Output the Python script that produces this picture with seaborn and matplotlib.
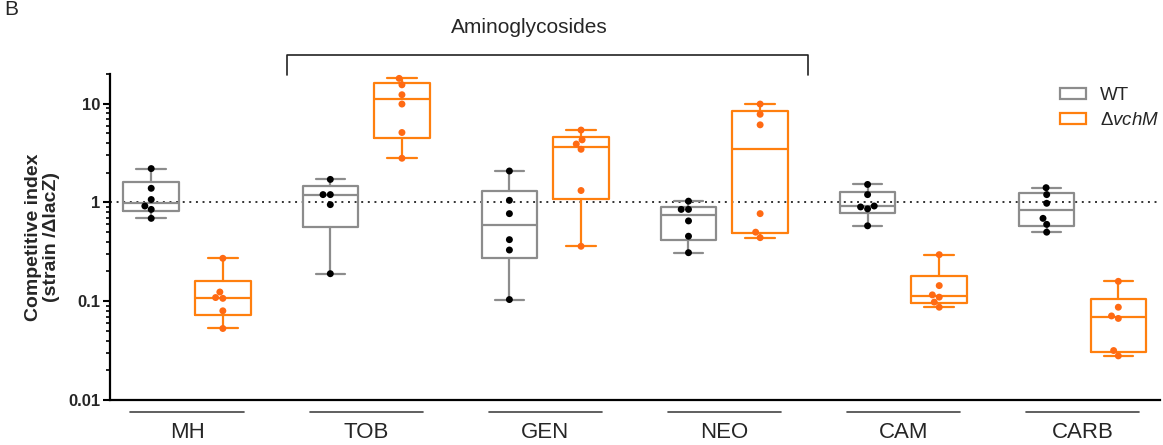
import numpy as np
import pandas as pd
import matplotlib
matplotlib.use('Agg')
import matplotlib.pyplot as plt
import matplotlib.transforms as mtransforms
from matplotlib.patches import Patch
from matplotlib.ticker import FixedLocator, LogLocator, NullFormatter
import seaborn as sns

# DATA (competitive index)
groups = ['MH', 'TOB', 'GEN', 'NEO', 'CAM', 'CARB']
strains = ['WT', 'ΔvchM']

wt_mh = [2.2, 1.39, 1.07, 0.92, 0.85, 0.69]
wt_tob = [1.71, 1.2, 1.2, 0.95, 0.19]
wt_gen = [2.08, 1.05, 0.77, 0.42, 0.33, 0.104]
wt_neo = [1.03, 0.85, 0.85, 0.65, 0.455, 0.31]
wt_cam = [1.52, 1.2, 0.92, 0.9, 0.86, 0.58]
wt_carb = [1.41, 1.2, 0.98, 0.69, 0.6, 0.5]

vchm_mh = [0.272, 0.124, 0.109, 0.107, 0.080, 0.053]
vchm_tob = [18.0, 15.5, 12.3, 9.9, 5.1, 2.8]
vchm_gen = [5.4, 4.3, 3.9, 3.45, 1.32, 0.36]
vchm_neo = [9.9, 7.8, 6.1, 0.77, 0.5, 0.44]
vchm_cam = [0.296, 0.144, 0.116, 0.11, 0.098, 0.087]
vchm_carb = [0.159, 0.087, 0.071, 0.067, 0.0317, 0.028]

y_ticks = [0.01, 0.1, 1, 10]
y_tick_labels = ['0.01', '0.1', '1', '10']

wt_lists = [wt_mh, wt_tob, wt_gen, wt_neo, wt_cam, wt_carb]
vchm_lists = [vchm_mh, vchm_tob, vchm_gen, vchm_neo, vchm_cam, vchm_carb]

rows = []
for g, wt, vm in zip(groups, wt_lists, vchm_lists):
    rows += [(g, 'WT', v) for v in wt]
    rows += [(g, 'ΔvchM', v) for v in vm]
df = pd.DataFrame(rows, columns=['group', 'strain', 'ci'])

# STYLE
sns.set_style('ticks')
plt.rcParams['font.family'] = ['Liberation Sans', 'DejaVu Sans']
plt.rcParams['mathtext.fontset'] = 'custom'
plt.rcParams['mathtext.rm'] = 'Liberation Sans'
plt.rcParams['mathtext.it'] = 'Liberation Sans:italic'

box_colors = {'WT': '#8c8c8c', 'ΔvchM': '#ff7f0e'}
dot_colors = {'WT': 'black', 'ΔvchM': '#ff6a13'}
offsets = {'WT': -0.2, 'ΔvchM': 0.2}

fig = plt.figure(figsize=(11.63, 4.45), dpi=100)
ax = fig.add_axes([0.0946, 0.101, 0.9024, 0.733])
ax.set_yscale('log')

# dots
sns.swarmplot(data=df, x='group', y='ci', hue='strain', order=groups, hue_order=strains,
              dodge=True, palette=dot_colors, size=5, legend=False, ax=ax, zorder=3)

# boxes: min-to-max whiskers, (n+1)p quartiles like Prism
for i, g in enumerate(groups):
    for s in strains:
        vals = df.loc[(df.group == g) & (df.strain == s), 'ci'].to_numpy()
        q1, med, q3 = np.percentile(vals, [25, 50, 75], method='weibull')
        stats = [dict(med=med, q1=q1, q3=q3, whislo=vals.min(), whishi=vals.max(), fliers=[])]
        c = box_colors[s]
        lp = dict(color=c, linewidth=1.6)
        ax.bxp(stats, positions=[i + offsets[s]], widths=0.31, capwidths=0.165,
               showfliers=False, manage_ticks=False,
               boxprops=lp, medianprops=lp, whiskerprops=lp, capprops=lp)

ax.axhline(1, color='#333333', linestyle=(0, (1, 2.4)), linewidth=1.4, zorder=0)

# axes
ax.set_ylim(0.01, 20)
ax.set_xlim(-0.43, 5.43)
ax.yaxis.set_major_locator(FixedLocator(y_ticks))
ax.yaxis.set_minor_locator(LogLocator(base=10, subs=np.arange(2, 10)))
ax.yaxis.set_minor_formatter(NullFormatter())
ax.set_yticklabels(y_tick_labels, fontweight='bold', fontsize=12)
ax.set_xticks(range(len(groups)))
ax.set_xticklabels(groups, fontsize=16)
ax.tick_params(axis='x', length=0, pad=16)
ax.tick_params(axis='y', which='major', length=5, width=1.5, color='black', pad=2)
ax.tick_params(axis='y', which='minor', length=3, width=1.2, color='black')
ax.set_xlabel('')
ax.set_ylabel('Competitive index\n(strain /ΔlacZ)', fontsize=14, fontweight='bold',
              labelpad=6, linespacing=1.1)
for side in ['top', 'right']:
    ax.spines[side].set_visible(False)
for side in ['left', 'bottom']:
    ax.spines[side].set_linewidth(1.6)
    ax.spines[side].set_color('black')

# group underlines
trans = mtransforms.blended_transform_factory(ax.transData, ax.transAxes)
for i in range(len(groups)):
    ax.plot([i - 0.316, i + 0.316], [-0.036, -0.036], transform=trans, clip_on=False,
            color='#444444', linewidth=1.2)

# aminoglycosides bracket
bx0, bx1 = 1 - 0.44, 3 + 0.47
ax.plot([bx0, bx0, bx1, bx1], [0.997, 1.058, 1.058, 0.997], transform=trans, clip_on=False,
        color='#222222', linewidth=1.2)
ax.text(1.91, 1.126, 'Aminoglycosides', transform=trans, ha='center', va='baseline', fontsize=15)

# legend
handles = [Patch(facecolor='white', edgecolor=box_colors[s], linewidth=1.6) for s in strains]
ax.legend(handles, ['WT', r'$\Delta\mathit{vchM}$'], loc='upper left', bbox_to_anchor=(0.889, 1.012),
          frameon=False, fontsize=13.5, handlelength=1.39, handleheight=0.55,
          handletextpad=0.75, labelspacing=0.45)

fig.text(0.004, 0.966, 'B', fontsize=15, ha='left', va='baseline')

plt.savefig('out.png', dpi=100)
